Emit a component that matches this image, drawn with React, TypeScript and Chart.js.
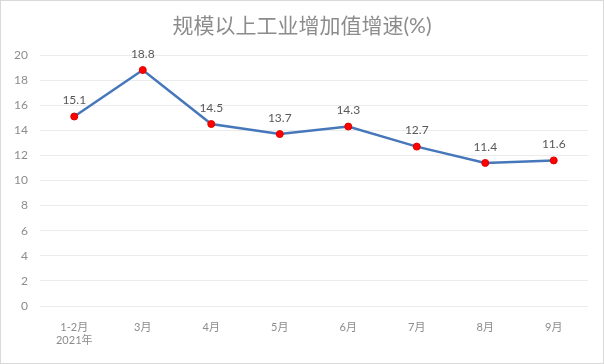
import React, { useEffect, useRef } from "react";
import { Chart, registerables } from "chart.js";

Chart.register(...registerables);

const categories: (string | string[])[] = [["1-2月", "2021年"], "3月", "4月", "5月", "6月", "7月", "8月", "9月"];
const growthValues: number[] = [15.1, 18.8, 14.5, 13.7, 14.3, 12.7, 11.4, 11.6];
const yTicks: number[] = [0, 2, 4, 6, 8, 10, 12, 14, 16, 18, 20];
const titleText = "规模以上工业增加值增速(%)";

const FONT = "Lato, 'Noto Sans CJK SC', sans-serif";

const labelPlugin = {
  id: "pointLabels",
  afterDatasetsDraw(chart: any) {
    const ctx = chart.ctx;
    const meta = chart.getDatasetMeta(0);
    ctx.save();
    ctx.font = `12px ${FONT}`;
    ctx.fillStyle = "#595959";
    ctx.textAlign = "center";
    ctx.textBaseline = "middle";
    meta.data.forEach((pt: any, i: number) => {
      ctx.fillText(growthValues[i].toFixed(1), pt.x, pt.y - 16);
    });
    ctx.restore();
  },
};

const titleBorderPlugin = {
  id: "titleAndBorder",
  afterDraw(chart: any) {
    const ctx = chart.ctx;
    ctx.save();
    ctx.font = `21px ${FONT}`;
    ctx.fillStyle = "#8C8C8C";
    ctx.textAlign = "center";
    ctx.textBaseline = "middle";
    ctx.fillText(titleText, chart.width / 2, 26);
    ctx.strokeStyle = "#D9D9D9";
    ctx.lineWidth = 1;
    ctx.strokeRect(0.5, 0.5, chart.width - 1, chart.height - 1);
    ctx.restore();
  },
};

export default function App() {
  const ref = useRef<HTMLCanvasElement>(null);
  useEffect(() => {
    document.body.style.margin = "0";
    const chart = new Chart(ref.current!, {
      type: "line",
      data: {
        labels: categories as any,
        datasets: [
          {
            data: growthValues,
            borderColor: "#4677BA",
            borderWidth: 2.5,
            pointBackgroundColor: "#FF0000",
            pointBorderColor: "#E00000",
            pointRadius: 3.5,
            pointBorderWidth: 1,
            tension: 0,
          },
        ],
      },
      options: {
        animation: false,
        responsive: false,
        layout: { padding: { left: 0, right: 16, top: 55, bottom: 0 } },
        plugins: {
          legend: { display: false },
          tooltip: { enabled: false },
          title: { display: false },
        },
        scales: {
          x: {
            offset: true,
            grid: { display: false },
            border: { display: false },
            ticks: {
              color: "#8C8C8C",
              font: { size: 11, family: FONT },
              maxRotation: 0,
              padding: 7,
            },
            afterFit: (s: any) => {
              s.height = 58;
            },
          },
          y: {
            min: 0,
            max: 20,
            afterBuildTicks: (s: any) => {
              s.ticks = yTicks.map((v) => ({ value: v }));
            },
            grid: { color: "#EBEBEB", lineWidth: 1, drawTicks: false },
            border: { display: false },
            ticks: {
              color: "#8C8C8C",
              font: { size: 12, family: FONT },
              padding: 12,
            },
            afterFit: (s: any) => {
              s.width = 40;
            },
          },
        },
      },
      plugins: [labelPlugin, titleBorderPlugin],
    });
    return () => chart.destroy();
  }, []);
  return (
    <div style={{ width: 604, height: 364 }}>
      <canvas ref={ref} width={604} height={364} style={{ display: "block" }} />
    </div>
  );
}
